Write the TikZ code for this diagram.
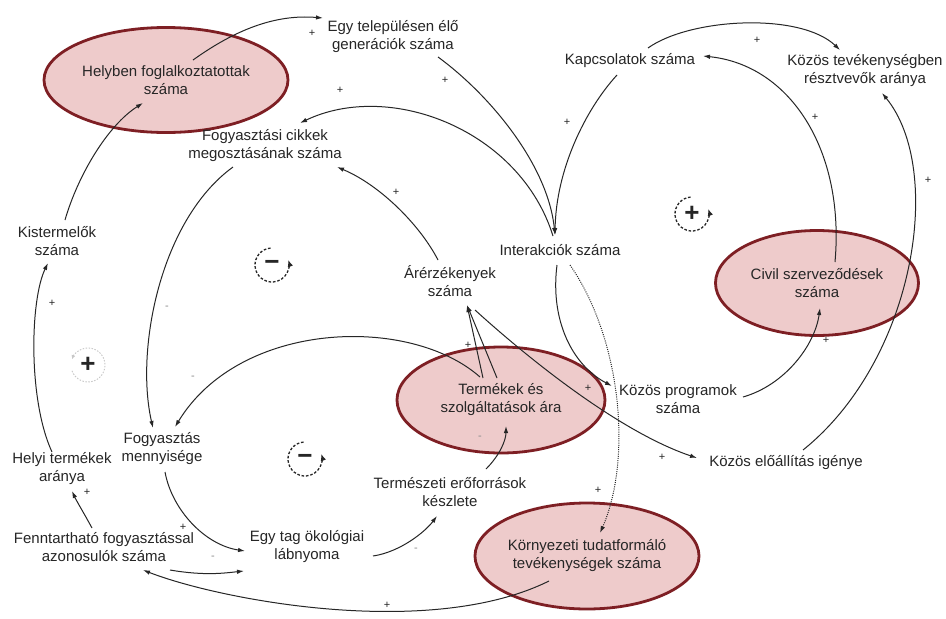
\documentclass[tikz,border=0pt]{standalone}
\usepackage{fontspec}
\setmainfont{Liberation Sans}
\usetikzlibrary{shapes.geometric,arrows.meta}
\definecolor{ink}{HTML}{262626}
\definecolor{efill}{HTML}{EECBCB}
\definecolor{edraw}{HTML}{7E1F24}
\begin{document}
\begin{tikzpicture}[x=1pt,y=-1pt,
  txt/.style={font=\fontsize{15}{18}\selectfont, align=center, text=ink, inner sep=0pt},
  oval/.style={ellipse, draw=edraw, fill=efill, line width=2.8pt, inner sep=0pt,
               font=\fontsize{15}{18}\selectfont, align=center, text=ink},
  conn/.style={draw=ink, line width=1pt, -{Latex[length=7pt,width=4.5pt]}},
  dotconn/.style={conn, dash pattern=on 1pt off 1.2pt},
  plabel/.style={font=\fontsize{11}{11}\selectfont, text=ink, inner sep=0pt},
  nlabel/.style={font=\fontsize{11}{11}\selectfont, text=black!45, inner sep=0pt},
  loopc/.style={draw=ink, line width=1.3pt, dash pattern=on 2.6pt off 1.8pt,
                -{Latex[length=7pt,width=5.5pt]}},
  sign/.style={font=\fontsize{26}{26}\selectfont\bfseries, text=ink, inner sep=0pt}
]
\fill[white] (0,0) rectangle (946,619);
\useasboundingbox (0,0) rectangle (946,619);

% ellipses
\node[oval, minimum width=244pt, minimum height=105pt] (helyben) at (166,80) {Helyben foglalkoztatottak\\száma};
\node[oval, minimum width=203pt, minimum height=105pt] (civil) at (817,283) {Civil szerveződések\\száma};
\node[oval, minimum width=208pt, minimum height=106pt] (term) at (501,400) {Termékek és\\szolgáltatások ára};
\node[oval, minimum width=205pt, minimum height=106pt] (korny) at (587,556) {Környezeti tudatformáló\\tevékenységek száma};

% text nodes
\node[txt] (gen) at (393,37) {Egy településen élő\\generációk száma};
\node[txt] (kap) at (630,61) {Kapcsolatok száma};
\node[txt] (koz) at (865,71) {Közös tevékenységben\\résztvevők aránya};
\node[txt] (fcikk) at (265,146) {Fogyasztási cikkek\\megosztásának száma};
\node[txt] (kist) at (57,241) {Kistermelők\\száma};
\node[txt] (inter) at (560,250) {Interakciók száma};
\node[txt] (arer) at (450,281) {Árérzékenyek\\száma};
\node[txt] (kprog) at (678,399) {Közös programok\\száma};
\node[txt] (kelo) at (786,463) {Közös előállítás igénye};
\node[txt] (fmenny) at (162,449) {Fogyasztás\\mennyisége};
\node[txt] (helyi) at (62,469) {Helyi termékek\\aránya};
\node[txt] (termesz) at (450,492) {Természeti erőforrások\\készlete};
\node[txt] (fennt) at (104,547) {Fenntartható fogyasztással\\azonosulók száma};
\node[txt] (oko) at (307,547) {Egy tag ökológiai\\lábnyoma};

% connectors
\draw[conn] ([shift={(27,-20)}]helyben.center) .. controls (235,30) and (275,14) .. ([shift={(-70,-19)}]gen.center);
\draw[conn] ([shift={(45,20)}]gen.center) .. controls (490,95) and (548,165) .. ([shift={(-5,-15)}]inter.center);
\draw[conn] ([shift={(-7,-14)}]inter.center) .. controls (520,130) and (390,80) .. ([shift={(35,-23)}]fcikk.center);
\draw[conn] ([shift={(-13,14)}]kap.center) .. controls (585,110) and (556,170) .. ([shift={(-5,-15)}]inter.center);
\draw[conn] ([shift={(18,-13)}]kap.center) .. controls (690,18) and (800,12) .. ([shift={(-25,-21)}]koz.center);
\draw[conn] ([shift={(18,-21)}]civil.center) .. controls (845,150) and (790,65) .. ([shift={(73,-5)}]kap.center);
\draw[conn] ([shift={(17,-13)}]kelo.center) .. controls (915,360) and (945,170) .. ([shift={(17,22)}]koz.center);
\draw[conn] ([shift={(65,-2)}]kprog.center) .. controls (785,385) and (815,345) .. ([shift={(3,25)}]civil.center);
\draw[conn] ([shift={(-3,15)}]inter.center) .. controls (550,320) and (572,365) .. ([shift={(-66,-13)}]kprog.center);
\draw[dotconn] ([shift={(10,15)}]inter.center) .. controls (622,340) and (632,460) .. ([shift={(13,-23)}]korny.center);
\draw[conn] ([shift={(-18,-22)}]term.center) -- ([shift={(17,24)}]arer.center);
\draw[conn] ([shift={(-4,-22)}]term.center) -- ([shift={(17,24)}]arer.center);
\draw[conn] ([shift={(25,29)}]arer.center) .. controls (530,360) and (620,432) .. ([shift={(-89,-5)}]kelo.center);
\draw[conn] ([shift={(-12,-21)}]arer.center) .. controls (420,225) and (380,185) .. ([shift={(72,21)}]fcikk.center);
\draw[conn] ([shift={(-32,21)}]fcikk.center) .. controls (160,220) and (135,350) .. ([shift={(-9,-21)}]fmenny.center);
\draw[conn] ([shift={(-21,-23)}]term.center) .. controls (410,315) and (240,320) .. ([shift={(13,-22)}]fmenny.center);
\draw[conn] ([shift={(8,-21)}]kist.center) .. controls (78,175) and (108,125) .. ([shift={(-23,23)}]helyben.center);
\draw[conn] ([shift={(-10,-17)}]helyi.center) .. controls (28,400) and (30,300) .. ([shift={(-9,22)}]kist.center);
\draw[conn] ([shift={(-12,-19)}]fennt.center) .. controls (85,515) and (76,500) .. ([shift={(10,22)}]helyi.center);
\draw[conn] ([shift={(3,23)}]fmenny.center) .. controls (172,510) and (205,545) .. ([shift={(-62,4)}]oko.center);
\draw[conn] ([shift={(66,23)}]fennt.center) .. controls (205,576) and (225,573) .. ([shift={(-63,24)}]oko.center);
\draw[conn] ([shift={(66,9)}]oko.center) .. controls (400,552) and (425,532) .. ([shift={(-13,24)}]termesz.center);
\draw[conn] ([shift={(36,-23)}]termesz.center) .. controls (500,455) and (506,440) .. ([shift={(5,26)}]term.center);
\draw[conn] ([shift={(-38,25)}]korny.center) .. controls (430,640) and (220,600) .. ([shift={(39,23)}]fennt.center);

% polarity labels
\node[plabel] (p1) at (312,33) {+};
\node[plabel] (p2) at (445,80) {+};
\node[plabel] (p3) at (340,90) {+};
\node[plabel] (p4) at (567,122) {+};
\node[plabel] (p5) at (757,40) {+};
\node[plabel] (p6) at (815,117) {+};
\node[plabel] (p7) at (928,180) {+};
\node[plabel] (p8) at (826,340) {+};
\node[plabel] (p9) at (588,388) {+};
\node[plabel] (p10) at (598,490) {+};
\node[plabel] (p11) at (662,457) {+};
\node[plabel] (p12) at (468,345) {+};
\node[plabel] (p13) at (396,192) {+};
\node[plabel] (p14) at (52,303) {+};
\node[plabel] (p15) at (87,492) {+};
\node[plabel] (p16) at (183,527) {+};
\node[plabel] (p17) at (387,605) {+};
\node[nlabel] (n1) at (167,308) {-};
\node[nlabel] (n2) at (193,378) {-};
\node[nlabel] (n3) at (213,558) {-};
\node[nlabel] (n4) at (416,550) {-};
\node[nlabel] (n5) at (480,438) {-};

% loop symbols
\node[sign] (loopA) at (272,265) {−};
\node[sign] (loopB) at (692,214) {+};
\node[sign] (loopC) at (88,365) {+};
\node[sign] (loopD) at (305,459) {−};
\begin{scope}[shift={(loopA.center)},y=1pt]
  \draw[loopc] (95:17) arc[start angle=95,end angle=378,radius=17pt];
\end{scope}
\begin{scope}[shift={(loopB.center)},y=1pt]
  \draw[loopc] (95:17) arc[start angle=95,end angle=378,radius=17pt];
\end{scope}
\begin{scope}[shift={(loopD.center)},y=1pt]
  \draw[loopc] (95:17) arc[start angle=95,end angle=378,radius=17pt];
\end{scope}
\begin{scope}[shift={(loopC.center)},y=1pt]
  \draw[draw=black!22, line width=0.9pt, dash pattern=on 1.5pt off 1.5pt, -{Latex[length=4pt,width=4pt]}]
    (200:17) arc[start angle=200,end angle=520,radius=17pt];
\end{scope}
\end{tikzpicture}
\end{document}
